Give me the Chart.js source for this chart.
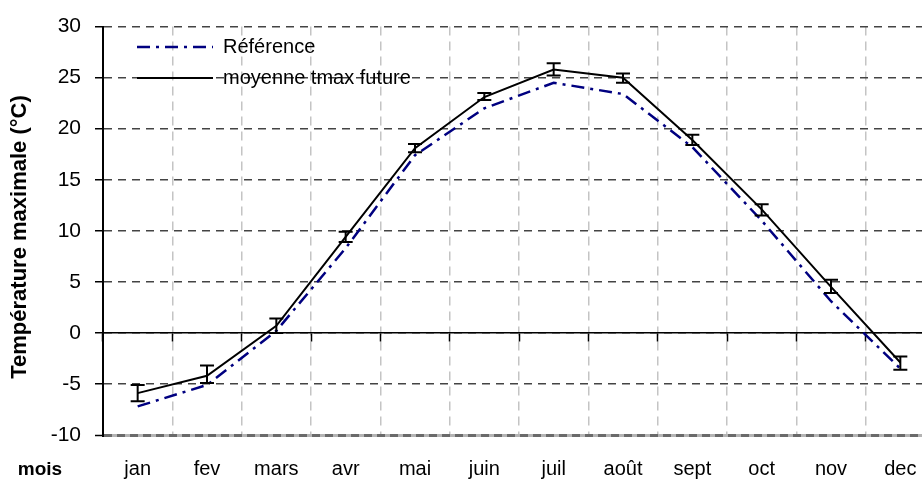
<!DOCTYPE html>
<html>
<head>
<meta charset="utf-8">
<script src="https://cdn.jsdelivr.net/npm/chart.js@4/dist/chart.umd.min.js"></script>
<style>
  html, body { margin: 0; padding: 0; background: #fff; overflow: hidden; }
  #wrap { width: 940px; height: 485px; }
</style>
</head>
<body>
<div id="wrap"><canvas id="tmaxChart" width="940" height="485"></canvas></div>
<script>
// Températures maximales mensuelles : référence et moyenne future
const months = ["jan","fev","mars","avr","mai","juin","juil","août","sept","oct","nov","dec"];
const reference = [-7.2, -5.1, 0.2, 8.3, 17.4, 22.0, 24.5, 23.4, 18.2, 11.0, 3.1, -3.5];
const futureMean = [-5.9, -4.2, 0.7, 9.4, 18.1, 23.1, 25.8, 25.0, 18.9, 12.1, 4.5, -2.9];
const futureLow = [-6.7, -4.9, 0.0, 8.9, 17.7, 22.8, 25.2, 24.5, 18.4, 11.5, 3.9, -3.6];
const futureHigh = [-5.1, -3.2, 1.4, 9.9, 18.5, 23.5, 26.4, 25.4, 19.4, 12.6, 5.2, -2.3];
const yTicks = [-10, -5, 0, 5, 10, 15, 20, 25, 30];

const FONT = "'Liberation Sans', Arial, sans-serif";

// barres d'erreur sur la série future
const errorBars = {
    id: "errorBars",
    afterDatasetsDraw(chart){
        const {ctx, scales:{x, y}} = chart;
        ctx.save();
        ctx.strokeStyle = "#000";
        ctx.lineWidth = 2;
        futureMean.forEach((v, i)=>{
            const px = x.getPixelForValue(i);
            const top = y.getPixelForValue(futureHigh[i]);
            const bot = y.getPixelForValue(futureLow[i]);
            ctx.beginPath();
            ctx.moveTo(px, top); ctx.lineTo(px, bot);
            ctx.moveTo(px-7, top); ctx.lineTo(px+7, top);
            ctx.moveTo(px-7, bot); ctx.lineTo(px+7, bot);
            ctx.stroke();
        });
        ctx.restore();
    }
};

// légende dans le coin haut gauche, titre vertical et libellé "mois"
const legendAndLabels = {
    id: "legendAndLabels",
    afterDraw(chart){
        const {ctx} = chart;
        ctx.save();
        chart.data.datasets.forEach((ds, i)=>{
            const ly = 47 + i*31;
            ctx.strokeStyle = ds.borderColor;
            ctx.lineWidth = ds.borderWidth;
            ctx.setLineDash(ds.borderDash || []);
            ctx.beginPath();
            ctx.moveTo(137, ly); ctx.lineTo(213, ly);
            ctx.stroke();
            ctx.setLineDash([]);
            ctx.fillStyle = "#000";
            ctx.font = "20px " + FONT;
            ctx.textBaseline = "middle";
            ctx.fillText(ds.label, 223, ly);
        });
        ctx.font = "bold 19px " + FONT;
        ctx.textAlign = "center";
        ctx.textBaseline = "middle";
        ctx.fillText("mois", 40, 470);

        ctx.translate(20, 237);
        ctx.rotate(-Math.PI/2);
        ctx.font = "bold 22px " + FONT;
        ctx.fillText("Température maximale (°C)", 0, 0);
        ctx.restore();
    }
};

const ctxT = document.getElementById("tmaxChart").getContext("2d");
const tmaxChart = new Chart(ctxT,{
    type:"line",
    data:{
        labels:months,
        datasets:[{
            label:"Référence",
            data:reference,
            borderColor:"#000080",
            borderWidth:2.5,
            borderDash:[13,6,3,6],
            pointRadius:0,
            tension:0,
            fill:false
        },{
            label:"moyenne tmax future",
            data:futureMean,
            borderColor:"#000",
            borderWidth:2,
            pointRadius:0,
            tension:0,
            fill:false
        }]
    },
    options:{
        responsive:false,
        animation:false,
        layout:{padding:{left:0, top:22, right:5, bottom:0}},
        plugins:{legend:{display:false}, tooltip:{enabled:false}},
        scales:{
            x:{
                type:"category",
                position:"bottom",
                offset:true,
                grid:{color:"#c4c4c4", lineWidth:1.5, drawTicks:false, offset:true},
                border:{display:true, color:"#b4b4b4", width:3, z:-1, dash:[9,6]},
                ticks:{color:"#000", padding:22, font:{family:FONT, size:20}, maxRotation:0, autoSkip:false},
                afterFit(scale){ scale.height = 50; }
            },
            x2:{
                type:"category",
                labels:months,
                position:{y:0},
                offset:true,
                grid:{drawOnChartArea:false, drawTicks:true, tickLength:8, tickColor:"#000", tickWidth:1.5, offset:true},
                border:{display:true, color:"#000", width:1.5},
                ticks:{display:false}
            },
            y:{
                min:-10, max:30,
                afterBuildTicks(scale){ scale.ticks = yTicks.map(v=>({value:v})); },
                grid:{
                    color:(c)=> c.tick && c.tick.value === -10 ? "#6a6a6a" : "#444",
                    lineWidth:(c)=> c.tick && c.tick.value === -10 ? 3 : 1.5,
                    tickLength:8, tickColor:"#000", tickWidth:1.5
                },
                border:{display:true, color:"#000", width:2, dash:(c)=> c.tick && c.tick.value === -10 ? [8,5] : [8,6]},
                ticks:{color:"#000", padding:14, font:{family:FONT, size:21}},
                afterFit(scale){ scale.width = 103; }
            }
        }
    },
    plugins:[errorBars, legendAndLabels]
});
</script>
</body>
</html>
